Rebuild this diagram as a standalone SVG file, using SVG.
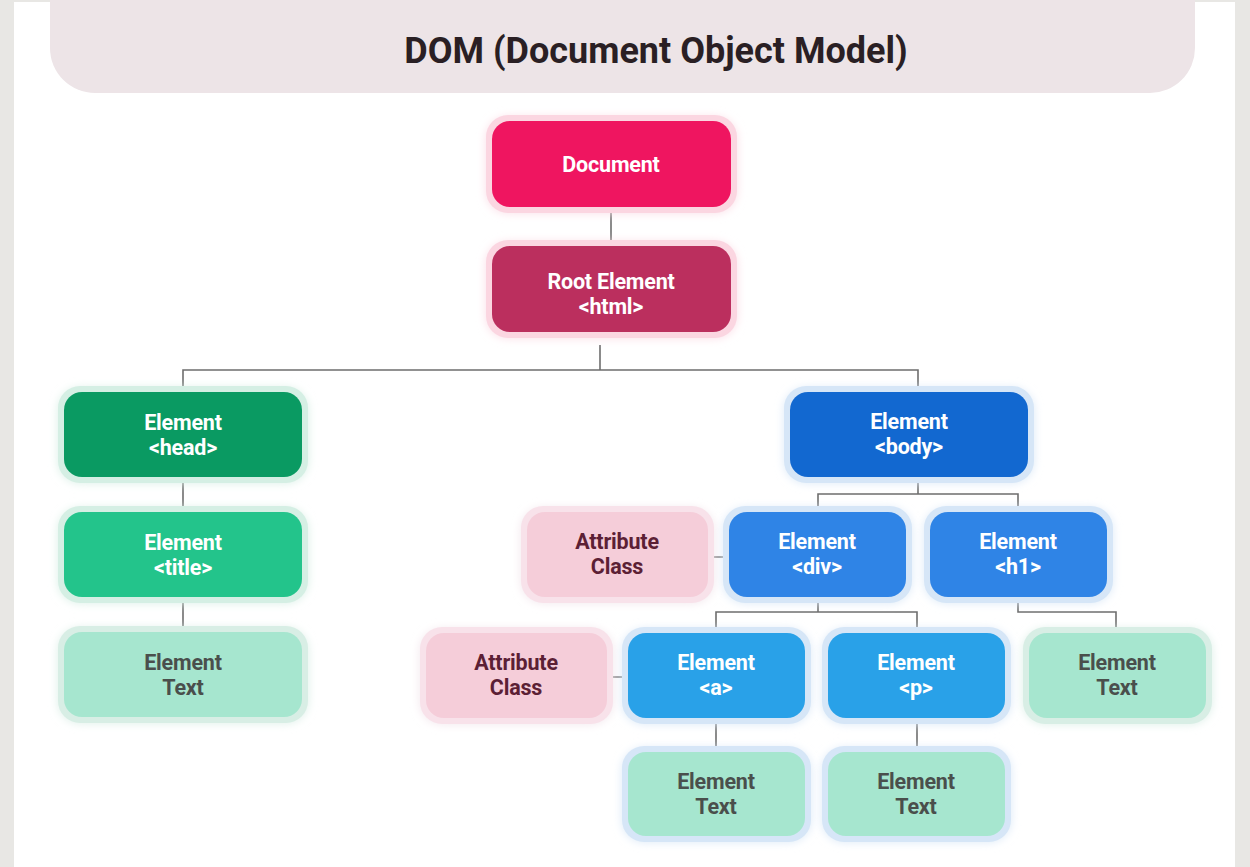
<svg xmlns="http://www.w3.org/2000/svg" width="1250" height="867" viewBox="0 0 1250 867">
  <defs>
    <filter id="haze" x="-20%" y="-30%" width="140%" height="160%">
      <feGaussianBlur stdDeviation="5"/>
    </filter>
    <style>
      .lbl { font-family: Roboto, "Liberation Sans", Arial, sans-serif; font-weight: 700; font-size: 21.5px; text-anchor: middle; letter-spacing: -0.2px; }
      .title { font-family: Roboto, "Liberation Sans", Arial, sans-serif; font-weight: 700; font-size: 36px; text-anchor: middle; fill: #2a1f24; }
      .w { fill: #ffffff; }
      .dk { fill: #4a4f4c; }
      .mar { fill: #5c1f35; }
      .wire { fill: none; stroke: #6e6e6e; stroke-width: 1.6; }
      .halo { filter: url(#haze); }
    </style>
  </defs>

  <!-- page -->
  <rect x="0" y="0" width="1250" height="867" fill="#e8e7e4"/>
  <rect x="14" y="2" width="1221" height="865" fill="#ffffff"/>

  <!-- heading banner -->
  <path d="M50 0 H1195 V48 A45 45 0 0 1 1150 93 H95 A45 45 0 0 1 50 48 Z" fill="#ede4e7"/>
  <text class="title" x="656" y="63">DOM (Document Object Model)</text>

  <!-- connectors -->
  <g id="connectors">
    <path class="wire" d="M611 207 V246"/>
    <path class="wire" d="M600 345 V370 M183 392 V370 H918 V392"/>
    <path class="wire" d="M183 477 V512 M183 597 V632"/>
    <path class="wire" d="M918 477 V494 M818 512 V494 H1018 V512"/>
    <path class="wire" d="M708 557 H729"/>
    <path class="wire" d="M818 597 V612 M716 633 V612 H917 V633"/>
    <path class="wire" d="M607 677 H628"/>
    <path class="wire" d="M1018 597 V612 H1116 V633"/>
    <path class="wire" d="M716 718 V752 M917 718 V752"/>
  </g>

  <!-- Document -->
  <g id="document">
    <rect class="halo" x="486" y="117" width="251" height="96" rx="22" fill="#fbdde6"/>
    <rect x="486" y="115" width="251" height="98" rx="22" fill="#fbd6e1"/>
    <rect x="492" y="121" width="239" height="86" rx="18" fill="#ef1560"/>
    <text class="lbl w" x="611" y="172">Document</text>
  </g>

  <!-- Root Element -->
  <g id="root-html">
    <rect class="halo" x="486" y="242" width="251" height="96" rx="22" fill="#fbdde6"/>
    <rect x="486" y="240" width="251" height="98" rx="22" fill="#fbd6e1"/>
    <rect x="492" y="246" width="239" height="86" rx="18" fill="#bb2f5e"/>
    <text class="lbl w" x="611" y="289">Root Element</text>
    <text class="lbl w" x="611" y="314">&lt;html&gt;</text>
  </g>

  <!-- head -->
  <g id="el-head">
    <rect class="halo" x="58" y="388" width="250" height="95" rx="22" fill="#d9f0e6"/>
    <rect x="58" y="386" width="250" height="97" rx="22" fill="#d5efe4"/>
    <rect x="64" y="392" width="238" height="85" rx="18" fill="#0a9a62"/>
    <text class="lbl w" x="183" y="430">Element</text>
    <text class="lbl w" x="183" y="455">&lt;head&gt;</text>
  </g>

  <!-- title -->
  <g id="el-title">
    <rect class="halo" x="58" y="508" width="250" height="95" rx="22" fill="#d9f0e6"/>
    <rect x="58" y="506" width="250" height="97" rx="22" fill="#d5efe4"/>
    <rect x="64" y="512" width="238" height="85" rx="18" fill="#23c48b"/>
    <text class="lbl w" x="183" y="550">Element</text>
    <text class="lbl w" x="183" y="575">&lt;title&gt;</text>
  </g>

  <!-- head text -->
  <g id="text-title">
    <rect class="halo" x="58" y="628" width="250" height="95" rx="22" fill="#dcefe7"/>
    <rect x="58" y="626" width="250" height="97" rx="22" fill="#d8eee5"/>
    <rect x="64" y="632" width="238" height="85" rx="18" fill="#a6e6cf"/>
    <text class="lbl dk" x="183" y="670">Element</text>
    <text class="lbl dk" x="183" y="695">Text</text>
  </g>

  <!-- body -->
  <g id="el-body">
    <rect class="halo" x="784" y="388" width="250" height="95" rx="22" fill="#dbe9f8"/>
    <rect x="784" y="386" width="250" height="97" rx="22" fill="#d6e6f7"/>
    <rect x="790" y="392" width="238" height="85" rx="18" fill="#1268d0"/>
    <text class="lbl w" x="909" y="429">Element</text>
    <text class="lbl w" x="909" y="454">&lt;body&gt;</text>
  </g>

  <!-- attribute of div -->
  <g id="attr-div">
    <rect class="halo" x="521" y="508" width="193" height="95" rx="22" fill="#f3e6ec"/>
    <rect x="521" y="506" width="193" height="97" rx="22" fill="#f8e2ea"/>
    <rect x="527" y="512" width="181" height="85" rx="18" fill="#f5cdd9"/>
    <text class="lbl mar" x="617" y="549">Attribute</text>
    <text class="lbl mar" x="617" y="574">Class</text>
  </g>

  <!-- div -->
  <g id="el-div">
    <rect class="halo" x="723" y="508" width="189" height="95" rx="22" fill="#dbe9f8"/>
    <rect x="723" y="506" width="189" height="97" rx="22" fill="#d6e6f7"/>
    <rect x="729" y="512" width="177" height="85" rx="18" fill="#2f84e6"/>
    <text class="lbl w" x="817" y="549">Element</text>
    <text class="lbl w" x="817" y="574">&lt;div&gt;</text>
  </g>

  <!-- h1 -->
  <g id="el-h1">
    <rect class="halo" x="924" y="508" width="189" height="95" rx="22" fill="#dbe9f8"/>
    <rect x="924" y="506" width="189" height="97" rx="22" fill="#d6e6f7"/>
    <rect x="930" y="512" width="177" height="85" rx="18" fill="#2f84e6"/>
    <text class="lbl w" x="1018" y="549">Element</text>
    <text class="lbl w" x="1018" y="574">&lt;h1&gt;</text>
  </g>

  <!-- attribute of a -->
  <g id="attr-a">
    <rect class="halo" x="420" y="629" width="193" height="95" rx="22" fill="#f3e6ec"/>
    <rect x="420" y="627" width="193" height="97" rx="22" fill="#f8e2ea"/>
    <rect x="426" y="633" width="181" height="85" rx="18" fill="#f5cdd9"/>
    <text class="lbl mar" x="516" y="670">Attribute</text>
    <text class="lbl mar" x="516" y="695">Class</text>
  </g>

  <!-- a -->
  <g id="el-a">
    <rect class="halo" x="622" y="629" width="189" height="95" rx="22" fill="#dbe9f8"/>
    <rect x="622" y="627" width="189" height="97" rx="22" fill="#d6e6f7"/>
    <rect x="628" y="633" width="177" height="85" rx="18" fill="#29a1e8"/>
    <text class="lbl w" x="716" y="670">Element</text>
    <text class="lbl w" x="716" y="695">&lt;a&gt;</text>
  </g>

  <!-- p -->
  <g id="el-p">
    <rect class="halo" x="822" y="629" width="189" height="95" rx="22" fill="#dbe9f8"/>
    <rect x="822" y="627" width="189" height="97" rx="22" fill="#d6e6f7"/>
    <rect x="828" y="633" width="177" height="85" rx="18" fill="#29a1e8"/>
    <text class="lbl w" x="916" y="670">Element</text>
    <text class="lbl w" x="916" y="695">&lt;p&gt;</text>
  </g>

  <!-- h1 text -->
  <g id="text-h1">
    <rect class="halo" x="1023" y="629" width="189" height="95" rx="22" fill="#dcefe7"/>
    <rect x="1023" y="627" width="189" height="97" rx="22" fill="#d8eee5"/>
    <rect x="1029" y="633" width="177" height="85" rx="18" fill="#a6e6cf"/>
    <text class="lbl dk" x="1117" y="670">Element</text>
    <text class="lbl dk" x="1117" y="695">Text</text>
  </g>

  <!-- a text -->
  <g id="text-a">
    <rect class="halo" x="622" y="748" width="189" height="94" rx="22" fill="#dbe9f8"/>
    <rect x="622" y="746" width="189" height="96" rx="22" fill="#d6e6f7"/>
    <rect x="628" y="752" width="177" height="84" rx="18" fill="#a6e6cf"/>
    <text class="lbl dk" x="716" y="789">Element</text>
    <text class="lbl dk" x="716" y="814">Text</text>
  </g>

  <!-- p text -->
  <g id="text-p">
    <rect class="halo" x="822" y="748" width="189" height="94" rx="22" fill="#dbe9f8"/>
    <rect x="822" y="746" width="189" height="96" rx="22" fill="#d6e6f7"/>
    <rect x="828" y="752" width="177" height="84" rx="18" fill="#a6e6cf"/>
    <text class="lbl dk" x="916" y="789">Element</text>
    <text class="lbl dk" x="916" y="814">Text</text>
  </g>
</svg>
